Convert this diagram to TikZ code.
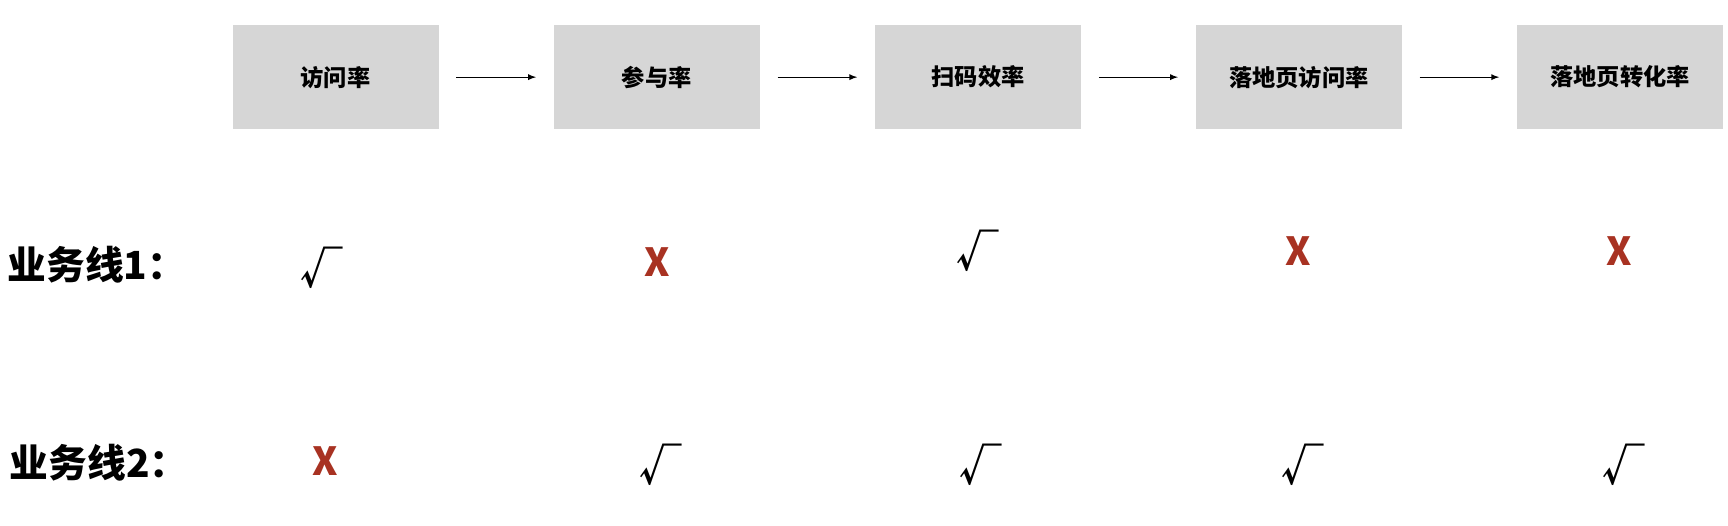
\documentclass[tikz,border=0pt]{standalone}
\usepackage{fontspec}
\setmainfont{Noto Sans CJK SC}
\usetikzlibrary{positioning}
\definecolor{boxgray}{RGB}{214,214,214}
\definecolor{crossred}{RGB}{168,50,34}
\tikzset{
  metric/.style={fill=boxgray, minimum width=3.74cm, minimum height=1.9cm, font=\fontsize{12}{14}\selectfont\bfseries},
  flow/.style={-latex, thin},
  linelabel/.style={font=\fontsize{20}{24}\selectfont\bfseries},
  yes/.style={font=\fontsize{22}{24}\selectfont\bfseries},
  no/.style={text=crossred, font=\fontsize{20}{24}\selectfont\bfseries}
}
\begin{document}
\begin{tikzpicture}[x=0.02cm, y=-0.02cm]
\useasboundingbox (0,0) rectangle (1568,477);

% Funnel steps
\node[metric] (visit) at (304.5,70) {访问率};
\node[metric] (join) at (596,70) {参与率};
\node[metric] (scan) at (887.5,70) {扫码效率};
\node[metric] (land) at (1178.5,70) {落地页访问率};
\node[metric] (conv) at (1470,70) {落地页转化率};

\draw[flow] ([xshift=9pt]visit.east) -- ([xshift=-9pt]join.west);
\draw[flow] ([xshift=9pt]join.east) -- ([xshift=-9pt]scan.west);
\draw[flow] ([xshift=9pt]scan.east) -- ([xshift=-9pt]land.west);
\draw[flow] ([xshift=9pt]land.east) -- ([xshift=-9pt]conv.west);

% Business line 1
\node[linelabel] (lineA) at (88,240) {业务线1：};
\node[yes] (a1) at (292,243) {√};
\node[no] (a2) at (596,238) {X};
\node[yes] (a3) at (887,228) {√};
\node[no] (a4) at (1178,228) {X};
\node[no] (a5) at (1469,228) {X};

% Business line 2
\node[linelabel] (lineB) at (90,420) {业务线2：};
\node[no] (b1) at (295,418) {X};
\node[yes] (b2) at (600,422) {√};
\node[yes] (b3) at (890,422) {√};
\node[yes] (b4) at (1182,422) {√};
\node[yes] (b5) at (1473,422) {√};

\end{tikzpicture}
\end{document}
